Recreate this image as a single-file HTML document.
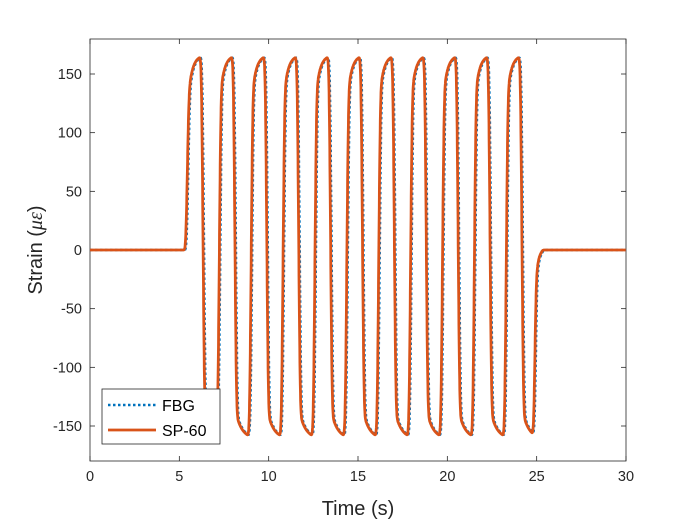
<!DOCTYPE html>
<html><head><meta charset="utf-8"><style>
body{margin:0;background:#fff;}
svg{display:block;font-family:"Liberation Sans",sans-serif;}
</style></head><body>
<svg id="s" width="692" height="520" viewBox="0 0 692 520">
<rect width="692" height="520" fill="#fff"/>
<rect x="90" y="39" width="536" height="422" fill="#fff" stroke="#262626" stroke-width="0.8"/>
<g id="ticks" stroke="#262626" stroke-width="0.8"></g>
<g id="lbl" font-size="14.5" fill="#262626"></g>
<clipPath id="c"><rect x="90" y="39" width="536" height="422"/></clipPath>
<g clip-path="url(#c)">
<path id="fbg" fill="none" stroke="#0072BD" stroke-width="2.5" stroke-dasharray="2.5 2.5"/>
<path id="sp" fill="none" stroke="#D95319" stroke-width="2.8" stroke-linejoin="round"/>
</g>
<text x="358" y="515" font-size="20" text-anchor="middle" fill="#262626">Time (s)</text>
<text transform="translate(42,250) rotate(-90)" font-size="20" text-anchor="middle" fill="#262626">Strain (<tspan font-family="Liberation Serif" font-style="italic">με</tspan>)</text>
<rect x="102" y="389" width="118" height="55" fill="#fff" stroke="#262626" stroke-width="0.8"/>
<line x1="108" y1="405" x2="156" y2="405" stroke="#0072BD" stroke-width="2.5" stroke-dasharray="2.5 2.5"/>
<line x1="108" y1="430" x2="156" y2="430" stroke="#D95319" stroke-width="2.8"/>
<text x="162" y="411" font-size="16" fill="#000">FBG</text>
<text x="162" y="436" font-size="16" fill="#000">SP-60</text>
</svg>
<script>
var X=t=>90+t*536/30, Y=v=>250-v*176/150;
var tk=document.getElementById('ticks'),lb=document.getElementById('lbl'),h='',l='';
for(var t=0;t<=30;t+=5){var x=X(t);h+=`<line x1="${x}" y1="461" x2="${x}" y2="456"/><line x1="${x}" y1="39" x2="${x}" y2="44"/>`;l+=`<text x="${x}" y="481" text-anchor="middle">${t}</text>`;}
for(var v=-150;v<=150;v+=50){var y=Y(v);h+=`<line x1="90" y1="${y}" x2="95" y2="${y}"/><line x1="626" y1="${y}" x2="621" y2="${y}"/>`;l+=`<text x="82" y="${y+5}" text-anchor="end">${v}</text>`;}
tk.innerHTML=h;lb.innerHTML=l;
function raw(t,d){
 var P=1.785,r0=5.45+d;
 if(t<r0-0.08) return 0;
 var last=r0+10*P;
 var e=last+1.0+0.55;
 if(t>e){ if(t<e+0.1) return -158+(t-e)/0.1*128; if(t<e+0.45) return -30*Math.exp(-(t-e-0.1)/0.12); return 0;}
 var k=Math.floor((t-r0+0.08)/P); if(k>10)k=10; var s=t-(r0+k*P);
 var lo=(k==0)?0:-158;
 if(s<0.08){ return lo+(s+0.08)/0.16*(135-lo);}
 if(s<0.8) return 166-31*Math.exp(-(s-0.08)/0.22);
 if(s<0.95) return 166-(s-0.8)/0.15*306;
 if(s<1.62) return -140-18*(1-Math.exp(-(s-0.95)/0.35))/(1-Math.exp(-0.67/0.35));
 return -158;
}
function path(d){
 var p='',sig=0.05;
 for(var t=0;t<=30;t+=0.01){var sum=0,w=0;for(var j=-8;j<=8;j++){var g=Math.exp(-j*j/18);sum+=g*raw(t+j*sig/3,d);w+=g;}
 var v=sum/w;p+=(p?'L':'M')+X(t).toFixed(1)+','+Y(v).toFixed(1);}
 return p;}
document.getElementById('fbg').setAttribute('d',path(0.05));
document.getElementById('sp').setAttribute('d',path(0));
</script>
</body></html>
